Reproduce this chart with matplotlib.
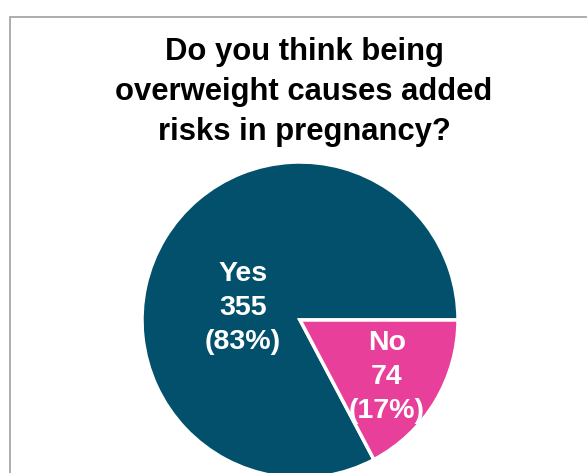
import matplotlib.pyplot as plt
from matplotlib.patches import Rectangle

# survey answers
answers = ["Yes", "No"]
counts = [355, 74]
colors = ["#02506b", "#e8409a"]

title = "Do you think being\noverweight causes added\nrisks in pregnancy?"

W, H = 587, 473
fig = plt.figure(figsize=(W / 100, H / 100), dpi=100)
ax = fig.add_axes([0, 0, 1, 1])

# chart frame (cropped at right and bottom)
fig.patches.append(Rectangle((10 / W, -0.1), 1.2, (H - 17) / H + 0.1,
                             transform=fig.transFigure, fill=False,
                             edgecolor="#a0a0a0", linewidth=1.2))

total = sum(counts)
labels = [f"{a}\n{c}\n({round(100 * c / total)}%)" for a, c in zip(answers, counts)]

wedges, texts = ax.pie(
    counts,
    colors=colors,
    startangle=0,
    counterclock=True,
    center=(300, H - 320),
    radius=158,
    labels=labels,
    labeldistance=None,
    wedgeprops={"edgecolor": "white", "linewidth": 2.5},
    frame=True,
)
ax.set_xlim(0, W)
ax.set_ylim(0, H)
ax.set_aspect("equal")
ax.axis("off")

label_pos = [(243, H - 308), (387, H - 377)]
for lab, (x, y) in zip(labels, label_pos):
    ax.text(x, y, lab, ha="center", va="center", color="white",
            fontsize=20.5, fontweight="bold", family="Liberation Sans",
            linespacing=1.4)

fig.text(304 / W, 1 - 92 / H, title, ha="center", va="center",
         fontsize=22.3, fontweight="bold", family="Liberation Sans",
         linespacing=1.43)

fig.savefig("out.png", dpi=100)
